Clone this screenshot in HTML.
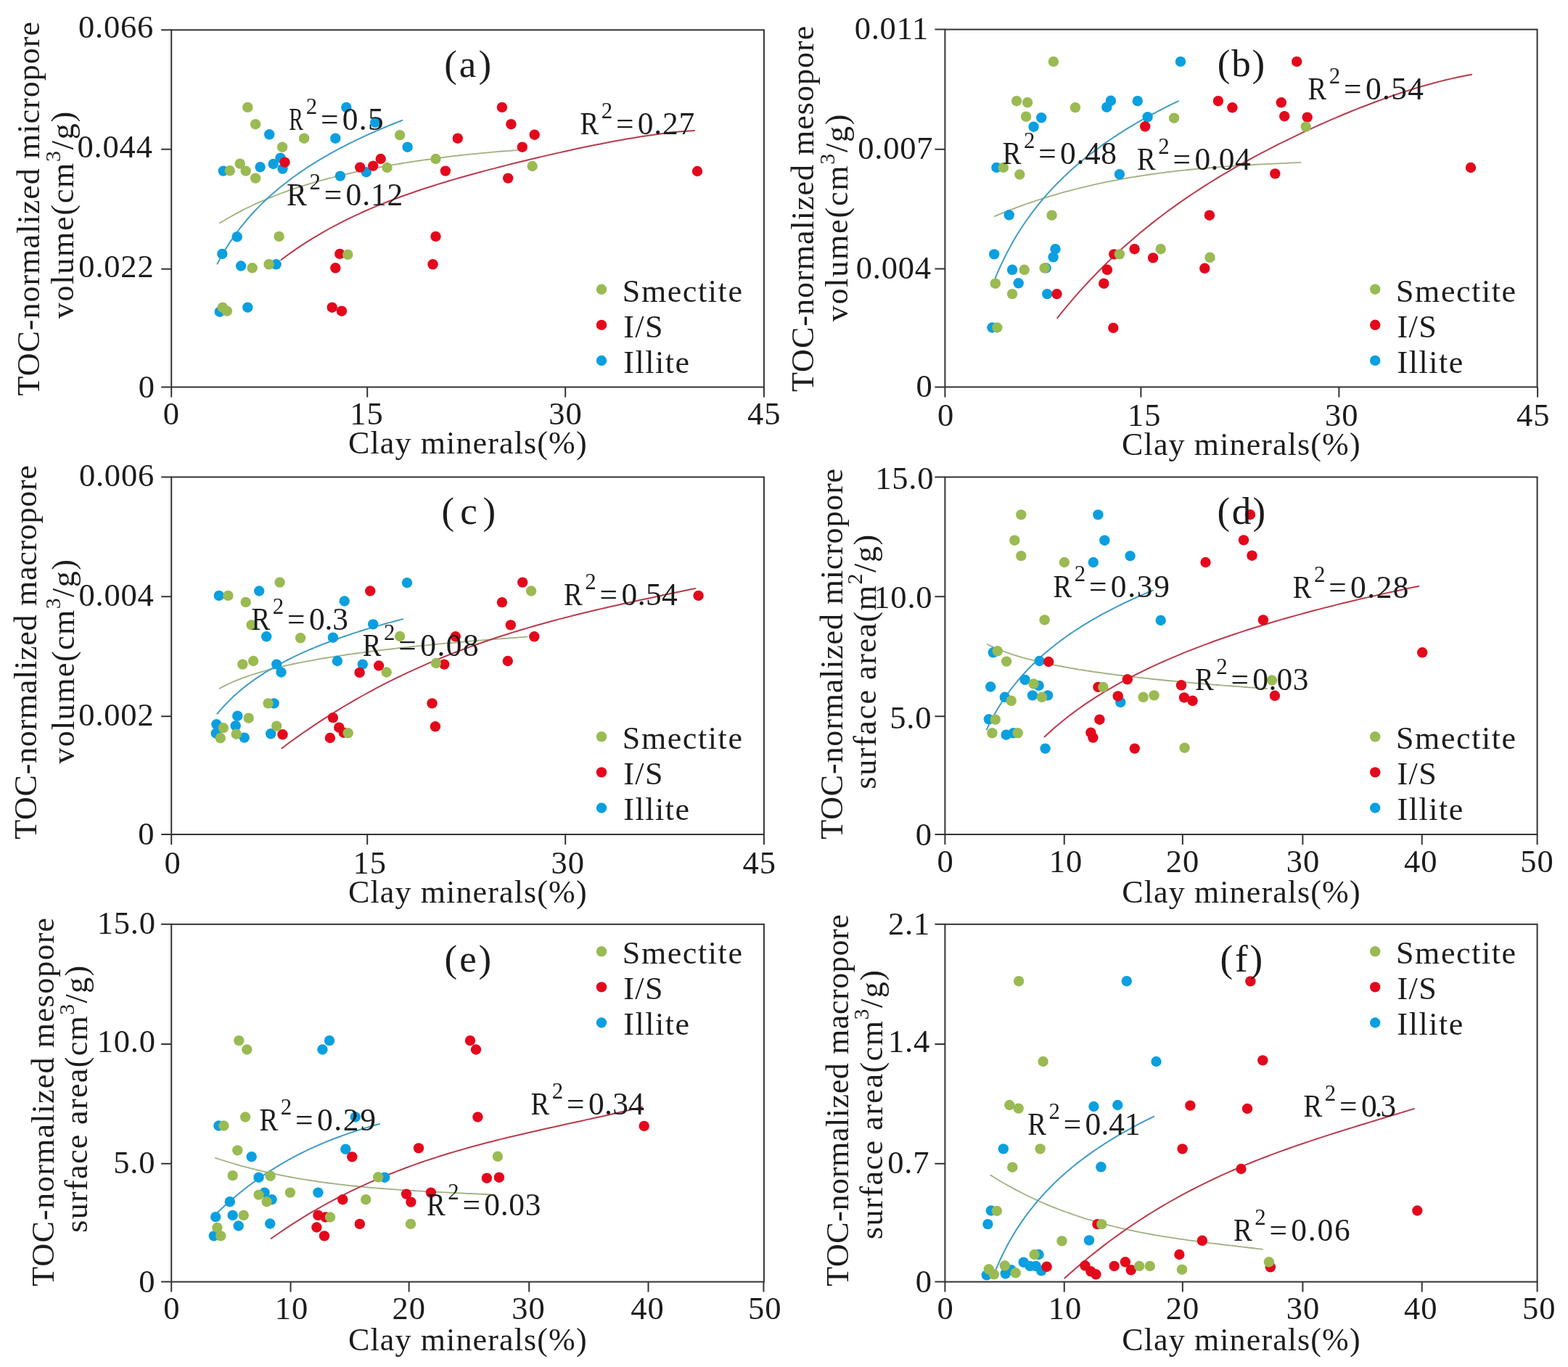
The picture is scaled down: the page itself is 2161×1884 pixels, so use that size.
<!DOCTYPE html><html><head><meta charset="utf-8"><title>Clay minerals vs TOC-normalized pore parameters</title><style>html,body{margin:0;padding:0;background:#fff;}svg{display:block;}</style></head><body><svg xmlns="http://www.w3.org/2000/svg" width="2161" height="1884" viewBox="0 0 2161 1884" font-family="'Liberation Serif', 'Times New Roman', serif"><path d="M236.20,533.50V547.50M506.20,533.50V547.50M779.20,533.50V547.50M1052.90,533.50V547.50M236.20,533.50H222.20M236.20,370.70H222.20M236.20,205.80H222.20M236.20,41.30H222.20" stroke="#333333" stroke-width="2" fill="none"/>
<rect x="236.20" y="41.30" width="816.70" height="492.20" stroke="#333333" stroke-width="2" fill="none"/>
<text x="224.78" y="585.30" font-size="44.5" letter-spacing="1.000" fill="#1c1c1c">0</text>
<text x="482.36" y="585.30" font-size="44.5" letter-spacing="1.000" fill="#1c1c1c">15</text>
<text x="756.33" y="585.30" font-size="44.5" letter-spacing="1.000" fill="#1c1c1c">30</text>
<text x="1029.88" y="585.30" font-size="44.5" letter-spacing="1.000" fill="#1c1c1c">45</text>
<text x="190.84" y="547.90" font-size="44.5" letter-spacing="0.800" fill="#1c1c1c">0</text>
<text x="108.33" y="381.80" font-size="44.5" letter-spacing="0.800" fill="#1c1c1c">0.022</text>
<text x="106.57" y="216.70" font-size="44.5" letter-spacing="0.800" fill="#1c1c1c">0.044</text>
<text x="108.00" y="51.80" font-size="44.5" letter-spacing="0.800" fill="#1c1c1c">0.066</text>
<text x="480.00" y="624.70" font-size="44.0" letter-spacing="1.131" fill="#1c1c1c">Clay minerals(%)</text>
<path d="M302.9,307.3 L308.1,304.2 L313.3,301.2 L318.5,298.2 L323.7,295.4 L328.8,292.6 L334.0,289.9 L339.2,287.3 L344.4,284.7 L349.6,282.3 L354.8,279.9 L360.0,277.6 L365.2,275.3 L370.4,273.2 L375.5,271.1 L380.7,269.0 L385.9,267.0 L391.1,265.1 L396.3,263.2 L401.5,261.4 L406.7,259.6 L411.9,257.9 L417.0,256.3 L422.2,254.6 L427.4,253.1 L432.6,251.5 L437.8,250.0 L443.0,248.6 L448.2,247.2 L453.4,245.8 L458.6,244.5 L463.7,243.2 L468.9,241.9 L474.1,240.7 L479.3,239.5 L484.5,238.4 L489.7,237.2 L494.9,236.1 L500.1,235.0 L505.3,234.0 L510.4,232.9 L515.6,231.9 L520.8,231.0 L526.0,230.0 L531.2,229.1 L536.4,228.1 L541.6,227.2 L546.8,226.4 L552.0,225.5 L557.1,224.7 L562.3,223.8 L567.5,223.0 L572.7,222.2 L577.9,221.5 L583.1,220.7 L588.3,220.0 L593.5,219.3 L598.7,218.6 L603.8,217.9 L609.0,217.2 L614.2,216.5 L619.4,215.9 L624.6,215.2 L629.8,214.6 L635.0,214.0 L640.2,213.4 L645.3,212.9 L650.5,212.3 L655.7,211.8 L660.9,211.3 L666.1,210.8 L671.3,210.3 L676.5,209.8 L681.7,209.4 L686.9,208.9 L692.0,208.5 L697.2,208.1 L702.4,207.8 L707.6,207.4 L712.8,207.1" stroke="#a0b07e" stroke-width="1.8" fill="none" stroke-linecap="round" stroke-linejoin="round"/>
<path d="M299.5,363.6 L302.7,357.6 L305.9,351.8 L309.2,346.3 L312.4,341.0 L315.6,335.9 L318.8,331.1 L322.1,326.4 L325.3,321.9 L328.5,317.5 L331.7,313.3 L335.0,309.3 L338.2,305.3 L341.4,301.5 L344.6,297.8 L347.9,294.2 L351.1,290.8 L354.3,287.4 L357.5,284.1 L360.8,280.9 L364.0,277.7 L367.2,274.7 L370.4,271.7 L373.7,268.8 L376.9,266.0 L380.1,263.2 L383.3,260.5 L386.5,257.8 L389.8,255.2 L393.0,252.7 L396.2,250.2 L399.4,247.7 L402.7,245.3 L405.9,243.0 L409.1,240.7 L412.3,238.4 L415.6,236.2 L418.8,234.0 L422.0,231.8 L425.2,229.7 L428.5,227.7 L431.7,225.6 L434.9,223.6 L438.1,221.6 L441.4,219.7 L444.6,217.8 L447.8,215.9 L451.0,214.1 L454.3,212.2 L457.5,210.4 L460.7,208.7 L463.9,206.9 L467.2,205.2 L470.4,203.5 L473.6,201.8 L476.8,200.1 L480.0,198.5 L483.3,196.9 L486.5,195.3 L489.7,193.7 L492.9,192.2 L496.2,190.7 L499.4,189.1 L502.6,187.7 L505.8,186.2 L509.1,184.7 L512.3,183.3 L515.5,181.9 L518.7,180.4 L522.0,179.1 L525.2,177.7 L528.4,176.3 L531.6,175.0 L534.9,173.6 L538.1,172.3 L541.3,171.0 L544.5,169.7 L547.8,168.4 L551.0,167.2 L554.2,165.9" stroke="#3f9cc4" stroke-width="2.0" fill="none" stroke-linecap="round" stroke-linejoin="round"/>
<path d="M387.4,358.2 L394.6,352.8 L401.8,347.6 L409.0,342.6 L416.2,337.8 L423.5,333.2 L430.7,328.7 L437.9,324.3 L445.1,320.1 L452.3,316.0 L459.5,312.1 L466.7,308.3 L473.9,304.6 L481.1,301.1 L488.4,297.6 L495.6,294.3 L502.8,291.0 L510.0,287.9 L517.2,284.8 L524.4,281.9 L531.6,279.0 L538.8,276.2 L546.1,273.5 L553.3,270.8 L560.5,268.2 L567.7,265.7 L574.9,263.2 L582.1,260.8 L589.3,258.5 L596.5,256.2 L603.7,253.9 L611.0,251.7 L618.2,249.5 L625.4,247.4 L632.6,245.3 L639.8,243.3 L647.0,241.2 L654.2,239.2 L661.4,237.3 L668.6,235.4 L675.9,233.4 L683.1,231.6 L690.3,229.7 L697.5,227.9 L704.7,226.0 L711.9,224.3 L719.1,222.5 L726.3,220.7 L733.5,219.0 L740.8,217.3 L748.0,215.6 L755.2,213.9 L762.4,212.3 L769.6,210.6 L776.8,209.0 L784.0,207.4 L791.2,205.8 L798.4,204.3 L805.7,202.8 L812.9,201.3 L820.1,199.8 L827.3,198.4 L834.5,196.9 L841.7,195.6 L848.9,194.2 L856.1,192.9 L863.4,191.6 L870.6,190.4 L877.8,189.2 L885.0,188.1 L892.2,187.0 L899.4,185.9 L906.6,184.9 L913.8,184.0 L921.0,183.1 L928.3,182.3 L935.5,181.6 L942.7,180.9 L949.9,180.4 L957.1,179.9" stroke="#b93a4c" stroke-width="2.0" fill="none" stroke-linecap="round" stroke-linejoin="round"/>
<circle cx="477.3" cy="147.9" r="7.2" fill="#0a9fe0"/>
<circle cx="517.2" cy="168.8" r="7.2" fill="#0a9fe0"/>
<circle cx="371.2" cy="185.3" r="7.2" fill="#0a9fe0"/>
<circle cx="462.3" cy="190.7" r="7.2" fill="#0a9fe0"/>
<circle cx="561.6" cy="202.7" r="7.2" fill="#0a9fe0"/>
<circle cx="307.8" cy="235.6" r="7.2" fill="#0a9fe0"/>
<circle cx="358.6" cy="230.2" r="7.2" fill="#0a9fe0"/>
<circle cx="376.6" cy="226.0" r="7.2" fill="#0a9fe0"/>
<circle cx="386.5" cy="217.6" r="7.2" fill="#0a9fe0"/>
<circle cx="389.5" cy="232.6" r="7.2" fill="#0a9fe0"/>
<circle cx="468.9" cy="242.6" r="7.2" fill="#0a9fe0"/>
<circle cx="504.8" cy="237.2" r="7.2" fill="#0a9fe0"/>
<circle cx="326.7" cy="326.3" r="7.2" fill="#0a9fe0"/>
<circle cx="306.3" cy="349.9" r="7.2" fill="#0a9fe0"/>
<circle cx="332.1" cy="366.5" r="7.2" fill="#0a9fe0"/>
<circle cx="380.6" cy="364.3" r="7.2" fill="#0a9fe0"/>
<circle cx="341.3" cy="423.7" r="7.2" fill="#0a9fe0"/>
<circle cx="302.8" cy="429.7" r="7.2" fill="#0a9fe0"/>
<circle cx="392.5" cy="223.6" r="7.2" fill="#e4081c"/>
<circle cx="630.8" cy="190.7" r="7.2" fill="#e4081c"/>
<circle cx="496.2" cy="230.6" r="7.2" fill="#e4081c"/>
<circle cx="514.2" cy="228.6" r="7.2" fill="#e4081c"/>
<circle cx="524.7" cy="219.0" r="7.2" fill="#e4081c"/>
<circle cx="613.9" cy="235.6" r="7.2" fill="#e4081c"/>
<circle cx="600.5" cy="325.9" r="7.2" fill="#e4081c"/>
<circle cx="468.3" cy="349.9" r="7.2" fill="#e4081c"/>
<circle cx="596.5" cy="364.3" r="7.2" fill="#e4081c"/>
<circle cx="462.3" cy="369.3" r="7.2" fill="#e4081c"/>
<circle cx="457.7" cy="423.7" r="7.2" fill="#e4081c"/>
<circle cx="470.9" cy="428.7" r="7.2" fill="#e4081c"/>
<circle cx="691.9" cy="147.9" r="7.2" fill="#e4081c"/>
<circle cx="704.4" cy="171.2" r="7.2" fill="#e4081c"/>
<circle cx="736.7" cy="185.7" r="7.2" fill="#e4081c"/>
<circle cx="719.8" cy="202.7" r="7.2" fill="#e4081c"/>
<circle cx="700.2" cy="245.6" r="7.2" fill="#e4081c"/>
<circle cx="961.0" cy="236.0" r="7.2" fill="#e4081c"/>
<circle cx="341.3" cy="147.9" r="7.2" fill="#9aba52"/>
<circle cx="352.1" cy="171.2" r="7.2" fill="#9aba52"/>
<circle cx="419.1" cy="190.7" r="7.2" fill="#9aba52"/>
<circle cx="389.1" cy="202.7" r="7.2" fill="#9aba52"/>
<circle cx="330.7" cy="225.6" r="7.2" fill="#9aba52"/>
<circle cx="316.8" cy="235.2" r="7.2" fill="#9aba52"/>
<circle cx="338.7" cy="235.6" r="7.2" fill="#9aba52"/>
<circle cx="352.1" cy="245.6" r="7.2" fill="#9aba52"/>
<circle cx="551.1" cy="186.1" r="7.2" fill="#9aba52"/>
<circle cx="600.5" cy="219.0" r="7.2" fill="#9aba52"/>
<circle cx="533.5" cy="231.0" r="7.2" fill="#9aba52"/>
<circle cx="384.6" cy="325.9" r="7.2" fill="#9aba52"/>
<circle cx="479.3" cy="350.9" r="7.2" fill="#9aba52"/>
<circle cx="347.7" cy="369.3" r="7.2" fill="#9aba52"/>
<circle cx="370.6" cy="364.3" r="7.2" fill="#9aba52"/>
<circle cx="306.8" cy="423.7" r="7.2" fill="#9aba52"/>
<circle cx="312.8" cy="428.7" r="7.2" fill="#9aba52"/>
<circle cx="733.7" cy="229.0" r="7.2" fill="#9aba52"/>
<text transform="translate(398.35,179.00) scale(0.680,1)" font-size="43.4" fill="#1c1c1c">R</text>
<text x="421.65" y="157.00" font-size="30.813999999999997" letter-spacing="0.000" fill="#1c1c1c">2</text>
<text x="441.89" y="179.00" font-size="43.4" letter-spacing="0.000" fill="#1c1c1c">=</text>
<text x="471.80" y="179.00" font-size="43.4" letter-spacing="1.375" fill="#1c1c1c">0.5</text>
<text transform="translate(395.00,282.50) scale(0.963,1)" font-size="43.4" fill="#1c1c1c">R</text>
<text x="426.45" y="260.50" font-size="30.813999999999997" letter-spacing="0.000" fill="#1c1c1c">2</text>
<text x="446.69" y="282.50" font-size="43.4" letter-spacing="0.000" fill="#1c1c1c">=</text>
<text x="476.60" y="282.50" font-size="43.4" letter-spacing="0.883" fill="#1c1c1c">0.12</text>
<text transform="translate(799.39,184.70) scale(0.887,1)" font-size="43.4" fill="#1c1c1c">R</text>
<text x="828.65" y="162.70" font-size="30.813999999999997" letter-spacing="0.000" fill="#1c1c1c">2</text>
<text x="848.89" y="184.70" font-size="43.4" letter-spacing="0.000" fill="#1c1c1c">=</text>
<text x="878.80" y="184.70" font-size="43.4" letter-spacing="0.835" fill="#1c1c1c">0.27</text>
<text x="612.17" y="106.10" font-size="53.0" letter-spacing="3.068" fill="#1c1c1c">(a)</text>
<circle cx="829.0" cy="398.8" r="7.2" fill="#9aba52"/>
<text x="857.86" y="415.70" font-size="44.0" letter-spacing="1.587" fill="#1c1c1c">Smectite</text>
<circle cx="829.0" cy="447.9" r="7.2" fill="#e4081c"/>
<text x="859.21" y="464.80" font-size="44.0" letter-spacing="1.435" fill="#1c1c1c">I/S</text>
<circle cx="829.0" cy="497.0" r="7.2" fill="#0a9fe0"/>
<text x="859.21" y="513.90" font-size="44.0" letter-spacing="1.567" fill="#1c1c1c">Illite</text>
<path d="M1302.40,533.40V547.40M1572.40,533.40V547.40M1845.40,533.40V547.40M2119.10,533.40V547.40M1302.40,533.40H1288.40M1302.40,370.60H1288.40M1302.40,205.70H1288.40M1302.40,40.60H1288.40" stroke="#333333" stroke-width="2" fill="none"/>
<rect x="1302.40" y="40.60" width="816.20" height="492.80" stroke="#333333" stroke-width="2" fill="none"/>
<text x="1291.88" y="586.80" font-size="44.5" letter-spacing="1.000" fill="#1c1c1c">0</text>
<text x="1553.96" y="586.80" font-size="44.5" letter-spacing="1.000" fill="#1c1c1c">15</text>
<text x="1826.03" y="586.80" font-size="44.5" letter-spacing="1.000" fill="#1c1c1c">30</text>
<text x="2089.88" y="586.80" font-size="44.5" letter-spacing="1.000" fill="#1c1c1c">45</text>
<text x="1262.44" y="546.50" font-size="44.5" letter-spacing="0.800" fill="#1c1c1c">0</text>
<text x="1179.67" y="383.65" font-size="44.5" letter-spacing="0.800" fill="#1c1c1c">0.004</text>
<text x="1182.16" y="218.90" font-size="44.5" letter-spacing="0.800" fill="#1c1c1c">0.007</text>
<text x="1177.65" y="53.60" font-size="44.5" letter-spacing="0.800" fill="#1c1c1c">0.011</text>
<text x="1546.10" y="627.10" font-size="44.0" letter-spacing="1.125" fill="#1c1c1c">Clay minerals(%)</text>
<path d="M1370.8,298.1 L1376.1,295.8 L1381.5,293.6 L1386.8,291.5 L1392.2,289.4 L1397.5,287.4 L1402.8,285.4 L1408.2,283.4 L1413.5,281.5 L1418.9,279.6 L1424.2,277.8 L1429.5,276.0 L1434.9,274.3 L1440.2,272.6 L1445.6,270.9 L1450.9,269.3 L1456.2,267.8 L1461.6,266.2 L1466.9,264.7 L1472.3,263.3 L1477.6,261.9 L1483.0,260.5 L1488.3,259.1 L1493.6,257.8 L1499.0,256.6 L1504.3,255.3 L1509.7,254.1 L1515.0,252.9 L1520.3,251.8 L1525.7,250.7 L1531.0,249.6 L1536.4,248.6 L1541.7,247.6 L1547.0,246.6 L1552.4,245.7 L1557.7,244.7 L1563.1,243.8 L1568.4,243.0 L1573.7,242.1 L1579.1,241.3 L1584.4,240.5 L1589.8,239.8 L1595.1,239.1 L1600.4,238.3 L1605.8,237.7 L1611.1,237.0 L1616.5,236.4 L1621.8,235.7 L1627.1,235.1 L1632.5,234.6 L1637.8,234.0 L1643.2,233.5 L1648.5,232.9 L1653.8,232.4 L1659.2,232.0 L1664.5,231.5 L1669.9,231.0 L1675.2,230.6 L1680.5,230.2 L1685.9,229.8 L1691.2,229.4 L1696.6,229.0 L1701.9,228.6 L1707.3,228.3 L1712.6,228.0 L1717.9,227.6 L1723.3,227.3 L1728.6,227.0 L1734.0,226.7 L1739.3,226.4 L1744.6,226.1 L1750.0,225.9 L1755.3,225.6 L1760.7,225.3 L1766.0,225.1 L1771.3,224.8 L1776.7,224.6 L1782.0,224.3 L1787.4,224.1 L1792.7,223.9" stroke="#a0b07e" stroke-width="1.8" fill="none" stroke-linecap="round" stroke-linejoin="round"/>
<path d="M1371.8,383.0 L1375.0,375.4 L1378.2,368.2 L1381.4,361.3 L1384.6,354.7 L1387.8,348.4 L1391.0,342.4 L1394.1,336.6 L1397.3,331.0 L1400.5,325.6 L1403.7,320.4 L1406.9,315.3 L1410.1,310.5 L1413.3,305.8 L1416.5,301.2 L1419.7,296.8 L1422.9,292.4 L1426.1,288.3 L1429.3,284.2 L1432.5,280.2 L1435.6,276.4 L1438.8,272.6 L1442.0,268.9 L1445.2,265.4 L1448.4,261.9 L1451.6,258.4 L1454.8,255.1 L1458.0,251.8 L1461.2,248.6 L1464.4,245.5 L1467.6,242.4 L1470.8,239.4 L1474.0,236.5 L1477.1,233.6 L1480.3,230.8 L1483.5,228.0 L1486.7,225.3 L1489.9,222.6 L1493.1,219.9 L1496.3,217.4 L1499.5,214.8 L1502.7,212.3 L1505.9,209.9 L1509.1,207.4 L1512.3,205.1 L1515.5,202.7 L1518.7,200.4 L1521.8,198.1 L1525.0,195.9 L1528.2,193.7 L1531.4,191.5 L1534.6,189.4 L1537.8,187.3 L1541.0,185.2 L1544.2,183.1 L1547.4,181.1 L1550.6,179.1 L1553.8,177.1 L1557.0,175.2 L1560.2,173.3 L1563.3,171.4 L1566.5,169.5 L1569.7,167.6 L1572.9,165.8 L1576.1,164.0 L1579.3,162.2 L1582.5,160.5 L1585.7,158.7 L1588.9,157.0 L1592.1,155.3 L1595.3,153.6 L1598.5,152.0 L1601.7,150.3 L1604.8,148.7 L1608.0,147.1 L1611.2,145.5 L1614.4,143.9 L1617.6,142.3 L1620.8,140.8 L1624.0,139.3" stroke="#3f9cc4" stroke-width="2.0" fill="none" stroke-linecap="round" stroke-linejoin="round"/>
<path d="M1457.3,438.1 L1464.5,429.1 L1471.8,420.4 L1479.0,411.9 L1486.2,403.6 L1493.4,395.6 L1500.7,387.7 L1507.9,380.1 L1515.1,372.7 L1522.3,365.5 L1529.6,358.4 L1536.8,351.5 L1544.0,344.8 L1551.2,338.3 L1558.5,331.9 L1565.7,325.7 L1572.9,319.6 L1580.2,313.7 L1587.4,307.9 L1594.6,302.3 L1601.8,296.7 L1609.1,291.3 L1616.3,286.1 L1623.5,280.9 L1630.7,275.8 L1638.0,270.9 L1645.2,266.0 L1652.4,261.3 L1659.6,256.6 L1666.9,252.0 L1674.1,247.6 L1681.3,243.1 L1688.6,238.8 L1695.8,234.6 L1703.0,230.4 L1710.2,226.3 L1717.5,222.3 L1724.7,218.3 L1731.9,214.4 L1739.1,210.6 L1746.4,206.8 L1753.6,203.1 L1760.8,199.4 L1768.0,195.8 L1775.3,192.3 L1782.5,188.8 L1789.7,185.3 L1796.9,181.9 L1804.2,178.6 L1811.4,175.3 L1818.6,172.0 L1825.9,168.8 L1833.1,165.7 L1840.3,162.6 L1847.5,159.5 L1854.8,156.5 L1862.0,153.5 L1869.2,150.6 L1876.4,147.8 L1883.7,145.0 L1890.9,142.2 L1898.1,139.5 L1905.3,136.9 L1912.6,134.3 L1919.8,131.8 L1927.0,129.3 L1934.3,126.9 L1941.5,124.6 L1948.7,122.3 L1955.9,120.1 L1963.2,118.0 L1970.4,116.0 L1977.6,114.0 L1984.8,112.1 L1992.1,110.3 L1999.3,108.6 L2006.5,107.0 L2013.7,105.4 L2021.0,104.0 L2028.2,102.7" stroke="#b93a4c" stroke-width="2.0" fill="none" stroke-linecap="round" stroke-linejoin="round"/>
<circle cx="1627.0" cy="84.9" r="7.2" fill="#0a9fe0"/>
<circle cx="1530.9" cy="138.8" r="7.2" fill="#0a9fe0"/>
<circle cx="1525.3" cy="147.7" r="7.2" fill="#0a9fe0"/>
<circle cx="1567.8" cy="139.2" r="7.2" fill="#0a9fe0"/>
<circle cx="1435.2" cy="162.3" r="7.2" fill="#0a9fe0"/>
<circle cx="1424.6" cy="174.7" r="7.2" fill="#0a9fe0"/>
<circle cx="1581.6" cy="161.3" r="7.2" fill="#0a9fe0"/>
<circle cx="1373.4" cy="230.9" r="7.2" fill="#0a9fe0"/>
<circle cx="1542.9" cy="240.1" r="7.2" fill="#0a9fe0"/>
<circle cx="1390.7" cy="296.3" r="7.2" fill="#0a9fe0"/>
<circle cx="1370.2" cy="350.4" r="7.2" fill="#0a9fe0"/>
<circle cx="1454.5" cy="343.2" r="7.2" fill="#0a9fe0"/>
<circle cx="1451.6" cy="354.4" r="7.2" fill="#0a9fe0"/>
<circle cx="1395.1" cy="371.8" r="7.2" fill="#0a9fe0"/>
<circle cx="1403.7" cy="390.3" r="7.2" fill="#0a9fe0"/>
<circle cx="1441.6" cy="369.4" r="7.2" fill="#0a9fe0"/>
<circle cx="1443.2" cy="405.1" r="7.2" fill="#0a9fe0"/>
<circle cx="1367.4" cy="451.5" r="7.2" fill="#0a9fe0"/>
<circle cx="1678.9" cy="139.2" r="7.2" fill="#e4081c"/>
<circle cx="1698.4" cy="148.3" r="7.2" fill="#e4081c"/>
<circle cx="1578.2" cy="174.3" r="7.2" fill="#e4081c"/>
<circle cx="1666.9" cy="296.7" r="7.2" fill="#e4081c"/>
<circle cx="1787.2" cy="84.9" r="7.2" fill="#e4081c"/>
<circle cx="1765.8" cy="141.3" r="7.2" fill="#e4081c"/>
<circle cx="1770.2" cy="160.2" r="7.2" fill="#e4081c"/>
<circle cx="1801.7" cy="161.6" r="7.2" fill="#e4081c"/>
<circle cx="1757.3" cy="239.4" r="7.2" fill="#e4081c"/>
<circle cx="2027.0" cy="231.0" r="7.2" fill="#e4081c"/>
<circle cx="1535.3" cy="350.4" r="7.2" fill="#e4081c"/>
<circle cx="1563.6" cy="343.2" r="7.2" fill="#e4081c"/>
<circle cx="1589.1" cy="355.4" r="7.2" fill="#e4081c"/>
<circle cx="1525.9" cy="371.8" r="7.2" fill="#e4081c"/>
<circle cx="1521.3" cy="390.7" r="7.2" fill="#e4081c"/>
<circle cx="1456.5" cy="405.1" r="7.2" fill="#e4081c"/>
<circle cx="1660.3" cy="369.8" r="7.2" fill="#e4081c"/>
<circle cx="1534.3" cy="451.9" r="7.2" fill="#e4081c"/>
<circle cx="1451.9" cy="84.9" r="7.2" fill="#9aba52"/>
<circle cx="1401.1" cy="139.2" r="7.2" fill="#9aba52"/>
<circle cx="1416.1" cy="141.2" r="7.2" fill="#9aba52"/>
<circle cx="1481.9" cy="148.1" r="7.2" fill="#9aba52"/>
<circle cx="1414.1" cy="160.7" r="7.2" fill="#9aba52"/>
<circle cx="1618.1" cy="162.7" r="7.2" fill="#9aba52"/>
<circle cx="1382.8" cy="230.9" r="7.2" fill="#9aba52"/>
<circle cx="1405.3" cy="240.5" r="7.2" fill="#9aba52"/>
<circle cx="1449.6" cy="296.7" r="7.2" fill="#9aba52"/>
<circle cx="1411.7" cy="371.8" r="7.2" fill="#9aba52"/>
<circle cx="1439.6" cy="369.4" r="7.2" fill="#9aba52"/>
<circle cx="1371.8" cy="390.7" r="7.2" fill="#9aba52"/>
<circle cx="1395.1" cy="405.1" r="7.2" fill="#9aba52"/>
<circle cx="1374.4" cy="451.5" r="7.2" fill="#9aba52"/>
<circle cx="1542.9" cy="350.4" r="7.2" fill="#9aba52"/>
<circle cx="1599.7" cy="343.2" r="7.2" fill="#9aba52"/>
<circle cx="1667.5" cy="354.8" r="7.2" fill="#9aba52"/>
<circle cx="1799.7" cy="174.6" r="7.2" fill="#9aba52"/>
<text transform="translate(1381.69,225.50) scale(0.887,1)" font-size="43.4" fill="#1c1c1c">R</text>
<text x="1410.95" y="203.50" font-size="30.813999999999997" letter-spacing="0.000" fill="#1c1c1c">2</text>
<text x="1431.19" y="225.50" font-size="43.4" letter-spacing="0.000" fill="#1c1c1c">=</text>
<text x="1461.10" y="225.50" font-size="43.4" letter-spacing="0.636" fill="#1c1c1c">0.48</text>
<text transform="translate(1567.09,233.50) scale(0.887,1)" font-size="43.4" fill="#1c1c1c">R</text>
<text x="1596.35" y="211.50" font-size="30.813999999999997" letter-spacing="0.000" fill="#1c1c1c">2</text>
<text x="1616.59" y="233.50" font-size="43.4" letter-spacing="0.000" fill="#1c1c1c">=</text>
<text x="1646.50" y="233.50" font-size="43.4" letter-spacing="0.411" fill="#1c1c1c">0.04</text>
<text transform="translate(1802.59,136.70) scale(0.887,1)" font-size="43.4" fill="#1c1c1c">R</text>
<text x="1831.85" y="114.70" font-size="30.813999999999997" letter-spacing="0.000" fill="#1c1c1c">2</text>
<text x="1852.09" y="136.70" font-size="43.4" letter-spacing="0.000" fill="#1c1c1c">=</text>
<text x="1882.00" y="136.70" font-size="43.4" letter-spacing="1.311" fill="#1c1c1c">0.54</text>
<text x="1677.67" y="105.40" font-size="53.0" letter-spacing="1.880" fill="#1c1c1c">(b)</text>
<circle cx="1895.2" cy="398.7" r="7.2" fill="#9aba52"/>
<text x="1924.06" y="415.60" font-size="44.0" letter-spacing="1.587" fill="#1c1c1c">Smectite</text>
<circle cx="1895.2" cy="447.8" r="7.2" fill="#e4081c"/>
<text x="1925.41" y="464.70" font-size="44.0" letter-spacing="1.435" fill="#1c1c1c">I/S</text>
<circle cx="1895.2" cy="496.9" r="7.2" fill="#0a9fe0"/>
<text x="1925.41" y="513.80" font-size="44.0" letter-spacing="1.567" fill="#1c1c1c">Illite</text>
<path d="M236.20,1150.00V1164.00M506.20,1150.00V1164.00M779.20,1150.00V1164.00M1052.90,1150.00V1164.00M236.20,1150.00H222.20M236.20,987.20H222.20M236.20,822.30H222.20M236.20,657.50H222.20" stroke="#333333" stroke-width="2" fill="none"/>
<rect x="236.20" y="657.50" width="816.70" height="492.50" stroke="#333333" stroke-width="2" fill="none"/>
<text x="226.38" y="1203.80" font-size="44.5" letter-spacing="1.000" fill="#1c1c1c">0</text>
<text x="486.56" y="1203.80" font-size="44.5" letter-spacing="1.000" fill="#1c1c1c">15</text>
<text x="759.53" y="1203.80" font-size="44.5" letter-spacing="1.000" fill="#1c1c1c">30</text>
<text x="1023.58" y="1203.80" font-size="44.5" letter-spacing="1.000" fill="#1c1c1c">45</text>
<text x="190.34" y="1163.60" font-size="44.5" letter-spacing="0.800" fill="#1c1c1c">0</text>
<text x="108.33" y="999.50" font-size="44.5" letter-spacing="0.800" fill="#1c1c1c">0.002</text>
<text x="108.47" y="835.00" font-size="44.5" letter-spacing="0.800" fill="#1c1c1c">0.004</text>
<text x="108.90" y="670.10" font-size="44.5" letter-spacing="0.800" fill="#1c1c1c">0.006</text>
<text x="480.00" y="1244.40" font-size="44.0" letter-spacing="1.131" fill="#1c1c1c">Clay minerals(%)</text>
<path d="M302.8,948.8 L308.2,945.9 L313.5,943.2 L318.9,940.8 L324.3,938.4 L329.6,936.3 L335.0,934.2 L340.4,932.3 L345.7,930.5 L351.1,928.8 L356.5,927.1 L361.8,925.5 L367.2,924.0 L372.6,922.6 L377.9,921.2 L383.3,919.9 L388.7,918.6 L394.0,917.4 L399.4,916.2 L404.8,915.0 L410.1,913.9 L415.5,912.9 L420.8,911.8 L426.2,910.8 L431.6,909.8 L436.9,908.9 L442.3,907.9 L447.7,907.0 L453.0,906.1 L458.4,905.3 L463.8,904.4 L469.1,903.6 L474.5,902.8 L479.9,902.0 L485.2,901.3 L490.6,900.5 L496.0,899.8 L501.3,899.1 L506.7,898.4 L512.1,897.7 L517.4,897.0 L522.8,896.4 L528.2,895.7 L533.5,895.1 L538.9,894.5 L544.3,893.8 L549.6,893.2 L555.0,892.7 L560.4,892.1 L565.7,891.5 L571.1,890.9 L576.5,890.4 L581.8,889.8 L587.2,889.3 L592.6,888.8 L597.9,888.3 L603.3,887.7 L608.7,887.2 L614.0,886.7 L619.4,886.2 L624.7,885.8 L630.1,885.3 L635.5,884.8 L640.8,884.4 L646.2,883.9 L651.6,883.4 L656.9,883.0 L662.3,882.6 L667.7,882.1 L673.0,881.7 L678.4,881.3 L683.8,880.9 L689.1,880.4 L694.5,880.0 L699.9,879.6 L705.2,879.2 L710.6,878.8 L716.0,878.4 L721.3,878.1 L726.7,877.7" stroke="#a0b07e" stroke-width="1.8" fill="none" stroke-linecap="round" stroke-linejoin="round"/>
<path d="M299.4,983.8 L302.6,979.9 L305.9,976.1 L309.1,972.6 L312.3,969.2 L315.6,965.9 L318.8,962.7 L322.0,959.6 L325.3,956.7 L328.5,953.9 L331.7,951.1 L335.0,948.5 L338.2,945.9 L341.4,943.4 L344.7,941.0 L347.9,938.6 L351.1,936.3 L354.4,934.1 L357.6,931.9 L360.8,929.8 L364.1,927.7 L367.3,925.7 L370.6,923.7 L373.8,921.8 L377.0,919.9 L380.3,918.1 L383.5,916.3 L386.7,914.5 L390.0,912.8 L393.2,911.1 L396.4,909.5 L399.7,907.9 L402.9,906.3 L406.1,904.7 L409.4,903.2 L412.6,901.7 L415.8,900.2 L419.1,898.7 L422.3,897.3 L425.5,895.9 L428.8,894.5 L432.0,893.2 L435.2,891.8 L438.5,890.5 L441.7,889.2 L444.9,887.9 L448.2,886.7 L451.4,885.5 L454.6,884.2 L457.9,883.0 L461.1,881.8 L464.3,880.7 L467.6,879.5 L470.8,878.4 L474.0,877.3 L477.3,876.2 L480.5,875.1 L483.7,874.0 L487.0,872.9 L490.2,871.9 L493.5,870.9 L496.7,869.8 L499.9,868.8 L503.2,867.8 L506.4,866.8 L509.6,865.9 L512.9,864.9 L516.1,863.9 L519.3,863.0 L522.6,862.1 L525.8,861.1 L529.0,860.2 L532.3,859.3 L535.5,858.4 L538.7,857.6 L542.0,856.7 L545.2,855.8 L548.4,855.0 L551.7,854.1 L554.9,853.3" stroke="#3f9cc4" stroke-width="2.0" fill="none" stroke-linecap="round" stroke-linejoin="round"/>
<path d="M388.5,1031.2 L395.7,1025.8 L402.9,1020.5 L410.1,1015.4 L417.3,1010.3 L424.6,1005.3 L431.8,1000.4 L439.0,995.6 L446.2,990.9 L453.4,986.3 L460.6,981.8 L467.8,977.4 L475.0,973.0 L482.2,968.8 L489.4,964.6 L496.7,960.5 L503.9,956.5 L511.1,952.6 L518.3,948.7 L525.5,944.9 L532.7,941.2 L539.9,937.6 L547.1,934.0 L554.3,930.6 L561.5,927.2 L568.8,923.8 L576.0,920.6 L583.2,917.3 L590.4,914.2 L597.6,911.1 L604.8,908.1 L612.0,905.2 L619.2,902.3 L626.4,899.5 L633.6,896.7 L640.9,894.0 L648.1,891.3 L655.3,888.7 L662.5,886.2 L669.7,883.7 L676.9,881.2 L684.1,878.8 L691.3,876.5 L698.5,874.2 L705.7,871.9 L713.0,869.7 L720.2,867.5 L727.4,865.4 L734.6,863.3 L741.8,861.2 L749.0,859.2 L756.2,857.2 L763.4,855.3 L770.6,853.4 L777.8,851.5 L785.1,849.6 L792.3,847.8 L799.5,846.0 L806.7,844.3 L813.9,842.5 L821.1,840.8 L828.3,839.1 L835.5,837.5 L842.7,835.8 L849.9,834.2 L857.2,832.6 L864.4,831.0 L871.6,829.4 L878.8,827.8 L886.0,826.3 L893.2,824.7 L900.4,823.2 L907.6,821.7 L914.8,820.1 L922.0,818.6 L929.3,817.1 L936.5,815.6 L943.7,814.1 L950.9,812.6 L958.1,811.1" stroke="#b93a4c" stroke-width="2.0" fill="none" stroke-linecap="round" stroke-linejoin="round"/>
<circle cx="301.8" cy="820.9" r="7.2" fill="#0a9fe0"/>
<circle cx="357.2" cy="814.5" r="7.2" fill="#0a9fe0"/>
<circle cx="561.0" cy="803.2" r="7.2" fill="#0a9fe0"/>
<circle cx="474.7" cy="828.5" r="7.2" fill="#0a9fe0"/>
<circle cx="514.2" cy="860.4" r="7.2" fill="#0a9fe0"/>
<circle cx="367.2" cy="877.3" r="7.2" fill="#0a9fe0"/>
<circle cx="458.9" cy="878.7" r="7.2" fill="#0a9fe0"/>
<circle cx="381.2" cy="915.6" r="7.2" fill="#0a9fe0"/>
<circle cx="387.5" cy="926.5" r="7.2" fill="#0a9fe0"/>
<circle cx="464.9" cy="911.0" r="7.2" fill="#0a9fe0"/>
<circle cx="499.8" cy="915.6" r="7.2" fill="#0a9fe0"/>
<circle cx="377.6" cy="969.4" r="7.2" fill="#0a9fe0"/>
<circle cx="327.3" cy="986.7" r="7.2" fill="#0a9fe0"/>
<circle cx="298.4" cy="998.3" r="7.2" fill="#0a9fe0"/>
<circle cx="324.7" cy="1000.3" r="7.2" fill="#0a9fe0"/>
<circle cx="297.8" cy="1010.7" r="7.2" fill="#0a9fe0"/>
<circle cx="336.7" cy="1016.6" r="7.2" fill="#0a9fe0"/>
<circle cx="373.2" cy="1011.3" r="7.2" fill="#0a9fe0"/>
<circle cx="510.2" cy="814.5" r="7.2" fill="#e4081c"/>
<circle cx="627.8" cy="877.3" r="7.2" fill="#e4081c"/>
<circle cx="522.1" cy="917.5" r="7.2" fill="#e4081c"/>
<circle cx="495.6" cy="926.9" r="7.2" fill="#e4081c"/>
<circle cx="612.3" cy="915.6" r="7.2" fill="#e4081c"/>
<circle cx="595.5" cy="969.4" r="7.2" fill="#e4081c"/>
<circle cx="458.9" cy="989.1" r="7.2" fill="#e4081c"/>
<circle cx="467.3" cy="1002.7" r="7.2" fill="#e4081c"/>
<circle cx="473.7" cy="1009.7" r="7.2" fill="#e4081c"/>
<circle cx="454.9" cy="1017.0" r="7.2" fill="#e4081c"/>
<circle cx="389.5" cy="1012.3" r="7.2" fill="#e4081c"/>
<circle cx="599.9" cy="1001.3" r="7.2" fill="#e4081c"/>
<circle cx="720.2" cy="802.6" r="7.2" fill="#e4081c"/>
<circle cx="691.9" cy="830.1" r="7.2" fill="#e4081c"/>
<circle cx="703.8" cy="861.4" r="7.2" fill="#e4081c"/>
<circle cx="736.3" cy="877.3" r="7.2" fill="#e4081c"/>
<circle cx="962.6" cy="820.9" r="7.2" fill="#e4081c"/>
<circle cx="699.8" cy="911.0" r="7.2" fill="#e4081c"/>
<circle cx="314.4" cy="820.9" r="7.2" fill="#9aba52"/>
<circle cx="385.6" cy="802.6" r="7.2" fill="#9aba52"/>
<circle cx="338.7" cy="829.9" r="7.2" fill="#9aba52"/>
<circle cx="346.7" cy="861.4" r="7.2" fill="#9aba52"/>
<circle cx="414.1" cy="879.3" r="7.2" fill="#9aba52"/>
<circle cx="551.1" cy="877.0" r="7.2" fill="#9aba52"/>
<circle cx="334.3" cy="915.6" r="7.2" fill="#9aba52"/>
<circle cx="349.1" cy="911.0" r="7.2" fill="#9aba52"/>
<circle cx="532.7" cy="926.5" r="7.2" fill="#9aba52"/>
<circle cx="600.9" cy="914.0" r="7.2" fill="#9aba52"/>
<circle cx="369.6" cy="969.4" r="7.2" fill="#9aba52"/>
<circle cx="342.7" cy="989.7" r="7.2" fill="#9aba52"/>
<circle cx="307.8" cy="1003.1" r="7.2" fill="#9aba52"/>
<circle cx="303.8" cy="1017.2" r="7.2" fill="#9aba52"/>
<circle cx="325.7" cy="1011.7" r="7.2" fill="#9aba52"/>
<circle cx="381.2" cy="1000.7" r="7.2" fill="#9aba52"/>
<circle cx="479.7" cy="1010.3" r="7.2" fill="#9aba52"/>
<circle cx="732.1" cy="814.5" r="7.2" fill="#9aba52"/>
<text transform="translate(346.59,868.40) scale(0.887,1)" font-size="43.4" fill="#1c1c1c">R</text>
<text x="375.85" y="846.40" font-size="30.813999999999997" letter-spacing="0.000" fill="#1c1c1c">2</text>
<text x="396.09" y="868.40" font-size="43.4" letter-spacing="0.000" fill="#1c1c1c">=</text>
<text x="426.00" y="868.40" font-size="43.4" letter-spacing="-0.125" fill="#1c1c1c">0.3</text>
<text transform="translate(499.79,903.70) scale(0.887,1)" font-size="43.4" fill="#1c1c1c">R</text>
<text x="529.05" y="881.70" font-size="30.813999999999997" letter-spacing="0.000" fill="#1c1c1c">2</text>
<text x="549.29" y="903.70" font-size="43.4" letter-spacing="0.000" fill="#1c1c1c">=</text>
<text x="579.20" y="903.70" font-size="43.4" letter-spacing="1.503" fill="#1c1c1c">0.08</text>
<text transform="translate(777.09,833.50) scale(0.887,1)" font-size="43.4" fill="#1c1c1c">R</text>
<text x="806.35" y="811.50" font-size="30.813999999999997" letter-spacing="0.000" fill="#1c1c1c">2</text>
<text x="826.59" y="833.50" font-size="43.4" letter-spacing="0.000" fill="#1c1c1c">=</text>
<text x="856.50" y="833.50" font-size="43.4" letter-spacing="0.444" fill="#1c1c1c">0.54</text>
<text x="608.57" y="722.30" font-size="53.0" letter-spacing="7.918" fill="#1c1c1c">(c)</text>
<circle cx="829.0" cy="1015.3" r="7.2" fill="#9aba52"/>
<text x="857.86" y="1032.20" font-size="44.0" letter-spacing="1.587" fill="#1c1c1c">Smectite</text>
<circle cx="829.0" cy="1064.4" r="7.2" fill="#e4081c"/>
<text x="859.21" y="1081.30" font-size="44.0" letter-spacing="1.435" fill="#1c1c1c">I/S</text>
<circle cx="829.0" cy="1113.5" r="7.2" fill="#0a9fe0"/>
<text x="859.21" y="1130.40" font-size="44.0" letter-spacing="1.567" fill="#1c1c1c">Illite</text>
<path d="M1302.40,1150.00V1164.00M1466.75,1150.00V1164.00M1629.85,1150.00V1164.00M1795.40,1150.00V1164.00M1959.70,1150.00V1164.00M2118.60,1150.00V1164.00M1302.40,1150.00H1288.40M1302.40,987.20H1288.40M1302.40,822.30H1288.40M1302.40,657.50H1288.40" stroke="#333333" stroke-width="2" fill="none"/>
<rect x="1302.40" y="657.50" width="816.20" height="492.50" stroke="#333333" stroke-width="2" fill="none"/>
<text x="1291.38" y="1201.70" font-size="44.5" letter-spacing="1.000" fill="#1c1c1c">0</text>
<text x="1445.84" y="1201.70" font-size="44.5" letter-spacing="1.000" fill="#1c1c1c">10</text>
<text x="1606.72" y="1201.70" font-size="44.5" letter-spacing="1.000" fill="#1c1c1c">20</text>
<text x="1772.63" y="1201.70" font-size="44.5" letter-spacing="1.000" fill="#1c1c1c">30</text>
<text x="1934.96" y="1201.70" font-size="44.5" letter-spacing="1.000" fill="#1c1c1c">40</text>
<text x="2095.20" y="1201.70" font-size="44.5" letter-spacing="1.000" fill="#1c1c1c">50</text>
<text x="1261.74" y="1164.50" font-size="44.5" letter-spacing="0.800" fill="#1c1c1c">0</text>
<text x="1226.17" y="1004.00" font-size="44.5" letter-spacing="0.800" fill="#1c1c1c">5.0</text>
<text x="1204.32" y="837.80" font-size="44.5" letter-spacing="0.800" fill="#1c1c1c">10.0</text>
<text x="1206.22" y="674.00" font-size="44.5" letter-spacing="0.800" fill="#1c1c1c">15.0</text>
<text x="1546.30" y="1244.40" font-size="44.0" letter-spacing="1.111" fill="#1c1c1c">Clay minerals(%)</text>
<path d="M1360.8,888.0 L1365.7,890.4 L1370.5,892.7 L1375.4,894.7 L1380.3,896.7 L1385.2,898.5 L1390.0,900.2 L1394.9,901.9 L1399.8,903.4 L1404.7,904.9 L1409.5,906.3 L1414.4,907.6 L1419.3,908.9 L1424.2,910.2 L1429.0,911.3 L1433.9,912.5 L1438.8,913.6 L1443.7,914.6 L1448.5,915.6 L1453.4,916.6 L1458.3,917.6 L1463.2,918.5 L1468.0,919.4 L1472.9,920.3 L1477.8,921.1 L1482.7,922.0 L1487.5,922.8 L1492.4,923.5 L1497.3,924.3 L1502.2,925.0 L1507.0,925.8 L1511.9,926.5 L1516.8,927.2 L1521.7,927.8 L1526.5,928.5 L1531.4,929.2 L1536.3,929.8 L1541.2,930.4 L1546.0,931.0 L1550.9,931.6 L1555.8,932.2 L1560.7,932.8 L1565.5,933.3 L1570.4,933.9 L1575.3,934.4 L1580.2,934.9 L1585.0,935.5 L1589.9,936.0 L1594.8,936.5 L1599.7,937.0 L1604.5,937.5 L1609.4,938.0 L1614.3,938.4 L1619.2,938.9 L1624.0,939.4 L1628.9,939.8 L1633.8,940.3 L1638.7,940.7 L1643.5,941.1 L1648.4,941.6 L1653.3,942.0 L1658.2,942.4 L1663.0,942.8 L1667.9,943.2 L1672.8,943.6 L1677.7,944.0 L1682.5,944.4 L1687.4,944.8 L1692.3,945.1 L1697.2,945.5 L1702.0,945.9 L1706.9,946.2 L1711.8,946.6 L1716.7,947.0 L1721.5,947.3 L1726.4,947.7 L1731.3,948.0 L1736.2,948.3 L1741.0,948.7 L1745.9,949.0" stroke="#a0b07e" stroke-width="1.8" fill="none" stroke-linecap="round" stroke-linejoin="round"/>
<path d="M1359.8,1005.4 L1362.7,999.4 L1365.6,993.7 L1368.5,988.2 L1371.4,983.0 L1374.3,978.1 L1377.2,973.3 L1380.1,968.7 L1383.0,964.3 L1385.9,960.1 L1388.8,956.0 L1391.7,952.0 L1394.6,948.2 L1397.5,944.5 L1400.4,940.9 L1403.3,937.4 L1406.2,934.0 L1409.1,930.7 L1412.0,927.5 L1414.9,924.4 L1417.9,921.3 L1420.8,918.4 L1423.7,915.5 L1426.6,912.7 L1429.5,909.9 L1432.4,907.2 L1435.3,904.6 L1438.2,902.0 L1441.1,899.5 L1444.0,897.1 L1446.9,894.7 L1449.8,892.3 L1452.7,890.0 L1455.6,887.7 L1458.5,885.5 L1461.4,883.3 L1464.3,881.1 L1467.2,879.0 L1470.1,877.0 L1473.0,874.9 L1475.9,872.9 L1478.8,871.0 L1481.7,869.0 L1484.6,867.1 L1487.5,865.3 L1490.4,863.4 L1493.3,861.6 L1496.2,859.8 L1499.1,858.1 L1502.0,856.3 L1504.9,854.6 L1507.8,852.9 L1510.7,851.3 L1513.6,849.6 L1516.5,848.0 L1519.4,846.4 L1522.3,844.9 L1525.2,843.3 L1528.1,841.8 L1531.0,840.3 L1534.0,838.8 L1536.9,837.3 L1539.8,835.9 L1542.7,834.4 L1545.6,833.0 L1548.5,831.6 L1551.4,830.2 L1554.3,828.9 L1557.2,827.5 L1560.1,826.2 L1563.0,824.8 L1565.9,823.5 L1568.8,822.2 L1571.7,821.0 L1574.6,819.7 L1577.5,818.5 L1580.4,817.2 L1583.3,816.0 L1586.2,814.8 L1589.1,813.6" stroke="#3f9cc4" stroke-width="2.0" fill="none" stroke-linecap="round" stroke-linejoin="round"/>
<path d="M1439.6,1015.5 L1446.1,1009.4 L1452.7,1003.6 L1459.2,998.0 L1465.7,992.7 L1472.2,987.5 L1478.8,982.6 L1485.3,977.8 L1491.8,973.1 L1498.4,968.7 L1504.9,964.4 L1511.4,960.2 L1517.9,956.1 L1524.5,952.1 L1531.0,948.3 L1537.5,944.6 L1544.0,940.9 L1550.6,937.4 L1557.1,933.9 L1563.6,930.6 L1570.2,927.3 L1576.7,924.1 L1583.2,921.0 L1589.7,917.9 L1596.3,914.9 L1602.8,912.0 L1609.3,909.1 L1615.9,906.3 L1622.4,903.6 L1628.9,900.9 L1635.4,898.2 L1642.0,895.6 L1648.5,893.1 L1655.0,890.6 L1661.5,888.1 L1668.1,885.7 L1674.6,883.3 L1681.1,881.0 L1687.7,878.7 L1694.2,876.5 L1700.7,874.3 L1707.2,872.1 L1713.8,869.9 L1720.3,867.8 L1726.8,865.8 L1733.4,863.7 L1739.9,861.7 L1746.4,859.7 L1752.9,857.8 L1759.5,855.8 L1766.0,853.9 L1772.5,852.0 L1779.0,850.2 L1785.6,848.4 L1792.1,846.6 L1798.6,844.8 L1805.2,843.0 L1811.7,841.3 L1818.2,839.6 L1824.7,837.9 L1831.3,836.2 L1837.8,834.6 L1844.3,832.9 L1850.9,831.3 L1857.4,829.7 L1863.9,828.2 L1870.4,826.6 L1877.0,825.1 L1883.5,823.6 L1890.0,822.1 L1896.5,820.6 L1903.1,819.1 L1909.6,817.6 L1916.1,816.2 L1922.7,814.8 L1929.2,813.4 L1935.7,812.0 L1942.2,810.6 L1948.8,809.2 L1955.3,807.9" stroke="#b93a4c" stroke-width="2.0" fill="none" stroke-linecap="round" stroke-linejoin="round"/>
<circle cx="1513.4" cy="709.4" r="7.2" fill="#0a9fe0"/>
<circle cx="1522.3" cy="744.7" r="7.2" fill="#0a9fe0"/>
<circle cx="1557.6" cy="766.1" r="7.2" fill="#0a9fe0"/>
<circle cx="1506.8" cy="775.0" r="7.2" fill="#0a9fe0"/>
<circle cx="1599.7" cy="855.0" r="7.2" fill="#0a9fe0"/>
<circle cx="1368.8" cy="899.3" r="7.2" fill="#0a9fe0"/>
<circle cx="1432.6" cy="911.0" r="7.2" fill="#0a9fe0"/>
<circle cx="1412.7" cy="936.9" r="7.2" fill="#0a9fe0"/>
<circle cx="1431.6" cy="944.9" r="7.2" fill="#0a9fe0"/>
<circle cx="1365.2" cy="946.5" r="7.2" fill="#0a9fe0"/>
<circle cx="1384.8" cy="960.8" r="7.2" fill="#0a9fe0"/>
<circle cx="1423.0" cy="958.4" r="7.2" fill="#0a9fe0"/>
<circle cx="1444.0" cy="958.4" r="7.2" fill="#0a9fe0"/>
<circle cx="1362.8" cy="991.3" r="7.2" fill="#0a9fe0"/>
<circle cx="1386.7" cy="1012.7" r="7.2" fill="#0a9fe0"/>
<circle cx="1396.7" cy="1010.3" r="7.2" fill="#0a9fe0"/>
<circle cx="1544.3" cy="967.8" r="7.2" fill="#0a9fe0"/>
<circle cx="1440.6" cy="1031.6" r="7.2" fill="#0a9fe0"/>
<circle cx="1661.5" cy="775.0" r="7.2" fill="#e4081c"/>
<circle cx="1714.0" cy="744.4" r="7.2" fill="#e4081c"/>
<circle cx="1723.0" cy="709.2" r="7.2" fill="#e4081c"/>
<circle cx="1725.5" cy="765.7" r="7.2" fill="#e4081c"/>
<circle cx="1740.9" cy="854.4" r="7.2" fill="#e4081c"/>
<circle cx="1960.2" cy="899.3" r="7.2" fill="#e4081c"/>
<circle cx="1445.2" cy="912.0" r="7.2" fill="#e4081c"/>
<circle cx="1553.8" cy="936.3" r="7.2" fill="#e4081c"/>
<circle cx="1513.4" cy="946.9" r="7.2" fill="#e4081c"/>
<circle cx="1628.0" cy="944.3" r="7.2" fill="#e4081c"/>
<circle cx="1540.7" cy="959.4" r="7.2" fill="#e4081c"/>
<circle cx="1632.0" cy="961.4" r="7.2" fill="#e4081c"/>
<circle cx="1643.6" cy="965.8" r="7.2" fill="#e4081c"/>
<circle cx="1515.4" cy="991.7" r="7.2" fill="#e4081c"/>
<circle cx="1503.4" cy="1009.7" r="7.2" fill="#e4081c"/>
<circle cx="1506.4" cy="1016.6" r="7.2" fill="#e4081c"/>
<circle cx="1563.8" cy="1031.6" r="7.2" fill="#e4081c"/>
<circle cx="1756.9" cy="958.8" r="7.2" fill="#e4081c"/>
<circle cx="1407.3" cy="709.4" r="7.2" fill="#9aba52"/>
<circle cx="1398.3" cy="744.7" r="7.2" fill="#9aba52"/>
<circle cx="1407.3" cy="766.1" r="7.2" fill="#9aba52"/>
<circle cx="1466.9" cy="775.0" r="7.2" fill="#9aba52"/>
<circle cx="1439.6" cy="854.4" r="7.2" fill="#9aba52"/>
<circle cx="1374.8" cy="897.3" r="7.2" fill="#9aba52"/>
<circle cx="1387.1" cy="911.6" r="7.2" fill="#9aba52"/>
<circle cx="1424.6" cy="942.5" r="7.2" fill="#9aba52"/>
<circle cx="1393.7" cy="965.8" r="7.2" fill="#9aba52"/>
<circle cx="1436.0" cy="960.8" r="7.2" fill="#9aba52"/>
<circle cx="1371.8" cy="991.7" r="7.2" fill="#9aba52"/>
<circle cx="1367.4" cy="1010.3" r="7.2" fill="#9aba52"/>
<circle cx="1402.7" cy="1010.3" r="7.2" fill="#9aba52"/>
<circle cx="1520.3" cy="946.9" r="7.2" fill="#9aba52"/>
<circle cx="1575.6" cy="960.8" r="7.2" fill="#9aba52"/>
<circle cx="1590.5" cy="958.4" r="7.2" fill="#9aba52"/>
<circle cx="1632.6" cy="1030.6" r="7.2" fill="#9aba52"/>
<circle cx="1752.9" cy="937.5" r="7.2" fill="#9aba52"/>
<text transform="translate(1451.39,822.50) scale(0.887,1)" font-size="43.4" fill="#1c1c1c">R</text>
<text x="1480.65" y="800.50" font-size="30.813999999999997" letter-spacing="0.000" fill="#1c1c1c">2</text>
<text x="1500.89" y="822.50" font-size="43.4" letter-spacing="0.000" fill="#1c1c1c">=</text>
<text x="1530.80" y="822.50" font-size="43.4" letter-spacing="1.712" fill="#1c1c1c">0.39</text>
<text transform="translate(1781.69,823.50) scale(0.887,1)" font-size="43.4" fill="#1c1c1c">R</text>
<text x="1810.95" y="801.50" font-size="30.813999999999997" letter-spacing="0.000" fill="#1c1c1c">2</text>
<text x="1831.19" y="823.50" font-size="43.4" letter-spacing="0.000" fill="#1c1c1c">=</text>
<text x="1861.10" y="823.50" font-size="43.4" letter-spacing="1.503" fill="#1c1c1c">0.28</text>
<text transform="translate(1646.89,950.80) scale(0.887,1)" font-size="43.4" fill="#1c1c1c">R</text>
<text x="1676.15" y="928.80" font-size="30.813999999999997" letter-spacing="0.000" fill="#1c1c1c">2</text>
<text x="1696.39" y="950.80" font-size="43.4" letter-spacing="0.000" fill="#1c1c1c">=</text>
<text x="1726.30" y="950.80" font-size="43.4" letter-spacing="0.383" fill="#1c1c1c">0.03</text>
<text x="1677.57" y="722.30" font-size="53.0" letter-spacing="2.430" fill="#1c1c1c">(d)</text>
<circle cx="1895.2" cy="1015.3" r="7.2" fill="#9aba52"/>
<text x="1924.06" y="1032.20" font-size="44.0" letter-spacing="1.587" fill="#1c1c1c">Smectite</text>
<circle cx="1895.2" cy="1064.4" r="7.2" fill="#e4081c"/>
<text x="1925.41" y="1081.30" font-size="44.0" letter-spacing="1.435" fill="#1c1c1c">I/S</text>
<circle cx="1895.2" cy="1113.5" r="7.2" fill="#0a9fe0"/>
<text x="1925.41" y="1130.40" font-size="44.0" letter-spacing="1.567" fill="#1c1c1c">Illite</text>
<path d="M236.20,1766.60V1780.60M400.55,1766.60V1780.60M563.65,1766.60V1780.60M729.20,1766.60V1780.60M893.50,1766.60V1780.60M1052.40,1766.60V1780.60M236.20,1766.60H222.20M236.20,1603.80H222.20M236.20,1438.90H222.20M236.20,1273.80H222.20" stroke="#333333" stroke-width="2" fill="none"/>
<rect x="236.20" y="1273.80" width="816.70" height="492.80" stroke="#333333" stroke-width="2" fill="none"/>
<text x="225.28" y="1818.20" font-size="44.5" letter-spacing="1.000" fill="#1c1c1c">0</text>
<text x="378.64" y="1818.20" font-size="44.5" letter-spacing="1.000" fill="#1c1c1c">10</text>
<text x="540.62" y="1818.20" font-size="44.5" letter-spacing="1.000" fill="#1c1c1c">20</text>
<text x="705.13" y="1818.20" font-size="44.5" letter-spacing="1.000" fill="#1c1c1c">30</text>
<text x="869.36" y="1818.20" font-size="44.5" letter-spacing="1.000" fill="#1c1c1c">40</text>
<text x="1031.10" y="1818.20" font-size="44.5" letter-spacing="1.000" fill="#1c1c1c">50</text>
<text x="191.14" y="1780.80" font-size="44.5" letter-spacing="0.800" fill="#1c1c1c">0</text>
<text x="156.17" y="1617.20" font-size="44.5" letter-spacing="0.800" fill="#1c1c1c">5.0</text>
<text x="133.72" y="1450.40" font-size="44.5" letter-spacing="0.800" fill="#1c1c1c">10.0</text>
<text x="133.72" y="1286.90" font-size="44.5" letter-spacing="0.800" fill="#1c1c1c">15.0</text>
<text x="480.00" y="1860.70" font-size="44.0" letter-spacing="1.131" fill="#1c1c1c">Clay minerals(%)</text>
<path d="M296.8,1595.9 L301.7,1597.5 L306.5,1599.0 L311.4,1600.5 L316.3,1602.0 L321.2,1603.5 L326.0,1604.9 L330.9,1606.3 L335.8,1607.6 L340.7,1608.9 L345.5,1610.2 L350.4,1611.4 L355.3,1612.6 L360.2,1613.8 L365.0,1614.9 L369.9,1616.0 L374.8,1617.1 L379.7,1618.1 L384.5,1619.1 L389.4,1620.1 L394.3,1621.1 L399.2,1622.0 L404.0,1622.9 L408.9,1623.8 L413.8,1624.6 L418.7,1625.4 L423.5,1626.2 L428.4,1627.0 L433.3,1627.7 L438.2,1628.5 L443.0,1629.2 L447.9,1629.8 L452.8,1630.5 L457.7,1631.1 L462.5,1631.7 L467.4,1632.3 L472.3,1632.9 L477.2,1633.4 L482.0,1634.0 L486.9,1634.5 L491.8,1635.0 L496.7,1635.4 L501.5,1635.9 L506.4,1636.4 L511.3,1636.8 L516.2,1637.2 L521.0,1637.6 L525.9,1638.0 L530.8,1638.4 L535.7,1638.7 L540.5,1639.1 L545.4,1639.4 L550.3,1639.8 L555.2,1640.1 L560.0,1640.4 L564.9,1640.7 L569.8,1641.0 L574.7,1641.3 L579.5,1641.6 L584.4,1641.8 L589.3,1642.1 L594.2,1642.3 L599.0,1642.6 L603.9,1642.9 L608.8,1643.1 L613.7,1643.3 L618.5,1643.6 L623.4,1643.8 L628.3,1644.1 L633.2,1644.3 L638.0,1644.5 L642.9,1644.8 L647.8,1645.0 L652.7,1645.2 L657.5,1645.5 L662.4,1645.7 L667.3,1646.0 L672.2,1646.2 L677.0,1646.5 L681.9,1646.7" stroke="#a0b07e" stroke-width="1.8" fill="none" stroke-linecap="round" stroke-linejoin="round"/>
<path d="M297.8,1672.9 L300.7,1670.2 L303.5,1667.5 L306.4,1664.8 L309.2,1662.2 L312.1,1659.7 L314.9,1657.1 L317.8,1654.6 L320.6,1652.2 L323.5,1649.8 L326.3,1647.4 L329.2,1645.0 L332.0,1642.7 L334.9,1640.5 L337.7,1638.2 L340.6,1636.0 L343.4,1633.8 L346.3,1631.7 L349.1,1629.6 L352.0,1627.5 L354.8,1625.5 L357.7,1623.5 L360.5,1621.5 L363.4,1619.6 L366.2,1617.6 L369.1,1615.8 L371.9,1613.9 L374.8,1612.1 L377.7,1610.3 L380.5,1608.5 L383.4,1606.8 L386.2,1605.1 L389.1,1603.4 L391.9,1601.8 L394.8,1600.1 L397.6,1598.5 L400.5,1597.0 L403.3,1595.4 L406.2,1593.9 L409.0,1592.4 L411.9,1590.9 L414.7,1589.5 L417.6,1588.1 L420.4,1586.7 L423.3,1585.3 L426.1,1583.9 L429.0,1582.6 L431.8,1581.3 L434.7,1580.0 L437.5,1578.8 L440.4,1577.5 L443.2,1576.3 L446.1,1575.1 L449.0,1573.9 L451.8,1572.8 L454.7,1571.6 L457.5,1570.5 L460.4,1569.4 L463.2,1568.3 L466.1,1567.2 L468.9,1566.2 L471.8,1565.1 L474.6,1564.1 L477.5,1563.1 L480.3,1562.1 L483.2,1561.1 L486.0,1560.2 L488.9,1559.2 L491.7,1558.3 L494.6,1557.4 L497.4,1556.5 L500.3,1555.6 L503.1,1554.7 L506.0,1553.9 L508.8,1553.0 L511.7,1552.2 L514.5,1551.3 L517.4,1550.5 L520.2,1549.7 L523.1,1548.9" stroke="#3f9cc4" stroke-width="2.0" fill="none" stroke-linecap="round" stroke-linejoin="round"/>
<path d="M373.6,1707.0 L380.1,1702.5 L386.6,1698.0 L393.0,1693.6 L399.5,1689.4 L406.0,1685.2 L412.5,1681.1 L418.9,1677.1 L425.4,1673.2 L431.9,1669.4 L438.4,1665.6 L444.8,1662.0 L451.3,1658.4 L457.8,1654.9 L464.3,1651.5 L470.8,1648.2 L477.2,1644.9 L483.7,1641.7 L490.2,1638.6 L496.7,1635.6 L503.1,1632.6 L509.6,1629.7 L516.1,1626.9 L522.6,1624.1 L529.1,1621.4 L535.5,1618.7 L542.0,1616.2 L548.5,1613.6 L555.0,1611.2 L561.4,1608.7 L567.9,1606.4 L574.4,1604.1 L580.9,1601.8 L587.3,1599.6 L593.8,1597.5 L600.3,1595.4 L606.8,1593.3 L613.3,1591.3 L619.7,1589.3 L626.2,1587.4 L632.7,1585.5 L639.2,1583.6 L645.6,1581.8 L652.1,1580.0 L658.6,1578.2 L665.1,1576.5 L671.6,1574.8 L678.0,1573.2 L684.5,1571.5 L691.0,1569.9 L697.5,1568.3 L703.9,1566.7 L710.4,1565.2 L716.9,1563.7 L723.4,1562.2 L729.8,1560.7 L736.3,1559.2 L742.8,1557.7 L749.3,1556.3 L755.8,1554.8 L762.2,1553.4 L768.7,1552.0 L775.2,1550.5 L781.7,1549.1 L788.1,1547.7 L794.6,1546.3 L801.1,1544.9 L807.6,1543.4 L814.1,1542.0 L820.5,1540.6 L827.0,1539.2 L833.5,1537.7 L840.0,1536.3 L846.4,1534.8 L852.9,1533.3 L859.4,1531.8 L865.9,1530.3 L872.3,1528.8 L878.8,1527.3 L885.3,1525.7" stroke="#b93a4c" stroke-width="2.0" fill="none" stroke-linecap="round" stroke-linejoin="round"/>
<circle cx="454.0" cy="1434.1" r="7.2" fill="#0a9fe0"/>
<circle cx="444.4" cy="1446.5" r="7.2" fill="#0a9fe0"/>
<circle cx="489.8" cy="1539.5" r="7.2" fill="#0a9fe0"/>
<circle cx="301.4" cy="1551.5" r="7.2" fill="#0a9fe0"/>
<circle cx="476.3" cy="1583.8" r="7.2" fill="#0a9fe0"/>
<circle cx="346.7" cy="1594.2" r="7.2" fill="#0a9fe0"/>
<circle cx="356.6" cy="1622.7" r="7.2" fill="#0a9fe0"/>
<circle cx="530.1" cy="1622.7" r="7.2" fill="#0a9fe0"/>
<circle cx="364.6" cy="1643.6" r="7.2" fill="#0a9fe0"/>
<circle cx="438.4" cy="1643.6" r="7.2" fill="#0a9fe0"/>
<circle cx="374.6" cy="1653.2" r="7.2" fill="#0a9fe0"/>
<circle cx="316.8" cy="1656.2" r="7.2" fill="#0a9fe0"/>
<circle cx="297.2" cy="1677.1" r="7.2" fill="#0a9fe0"/>
<circle cx="320.7" cy="1674.9" r="7.2" fill="#0a9fe0"/>
<circle cx="328.7" cy="1689.5" r="7.2" fill="#0a9fe0"/>
<circle cx="372.2" cy="1686.5" r="7.2" fill="#0a9fe0"/>
<circle cx="294.8" cy="1703.4" r="7.2" fill="#0a9fe0"/>
<circle cx="648.0" cy="1434.1" r="7.2" fill="#e4081c"/>
<circle cx="656.0" cy="1446.5" r="7.2" fill="#e4081c"/>
<circle cx="485.3" cy="1594.4" r="7.2" fill="#e4081c"/>
<circle cx="577.0" cy="1582.4" r="7.2" fill="#e4081c"/>
<circle cx="472.3" cy="1653.2" r="7.2" fill="#e4081c"/>
<circle cx="560.0" cy="1645.6" r="7.2" fill="#e4081c"/>
<circle cx="566.4" cy="1656.6" r="7.2" fill="#e4081c"/>
<circle cx="593.9" cy="1643.6" r="7.2" fill="#e4081c"/>
<circle cx="438.4" cy="1674.9" r="7.2" fill="#e4081c"/>
<circle cx="448.4" cy="1677.5" r="7.2" fill="#e4081c"/>
<circle cx="495.8" cy="1686.9" r="7.2" fill="#e4081c"/>
<circle cx="436.4" cy="1691.5" r="7.2" fill="#e4081c"/>
<circle cx="447.0" cy="1703.4" r="7.2" fill="#e4081c"/>
<circle cx="658.4" cy="1539.5" r="7.2" fill="#e4081c"/>
<circle cx="887.7" cy="1551.9" r="7.2" fill="#e4081c"/>
<circle cx="670.9" cy="1623.7" r="7.2" fill="#e4081c"/>
<circle cx="687.9" cy="1622.7" r="7.2" fill="#e4081c"/>
<circle cx="329.3" cy="1434.1" r="7.2" fill="#9aba52"/>
<circle cx="340.3" cy="1446.5" r="7.2" fill="#9aba52"/>
<circle cx="338.1" cy="1539.5" r="7.2" fill="#9aba52"/>
<circle cx="308.4" cy="1551.5" r="7.2" fill="#9aba52"/>
<circle cx="327.3" cy="1585.4" r="7.2" fill="#9aba52"/>
<circle cx="320.7" cy="1620.1" r="7.2" fill="#9aba52"/>
<circle cx="372.6" cy="1620.7" r="7.2" fill="#9aba52"/>
<circle cx="521.1" cy="1622.3" r="7.2" fill="#9aba52"/>
<circle cx="356.6" cy="1646.6" r="7.2" fill="#9aba52"/>
<circle cx="399.9" cy="1643.6" r="7.2" fill="#9aba52"/>
<circle cx="367.6" cy="1656.2" r="7.2" fill="#9aba52"/>
<circle cx="504.2" cy="1653.2" r="7.2" fill="#9aba52"/>
<circle cx="335.7" cy="1674.9" r="7.2" fill="#9aba52"/>
<circle cx="455.0" cy="1677.5" r="7.2" fill="#9aba52"/>
<circle cx="299.4" cy="1691.9" r="7.2" fill="#9aba52"/>
<circle cx="304.2" cy="1703.4" r="7.2" fill="#9aba52"/>
<circle cx="566.0" cy="1686.9" r="7.2" fill="#9aba52"/>
<circle cx="685.9" cy="1593.8" r="7.2" fill="#9aba52"/>
<text transform="translate(357.49,1557.90) scale(0.887,1)" font-size="43.4" fill="#1c1c1c">R</text>
<text x="386.75" y="1535.90" font-size="30.813999999999997" letter-spacing="0.000" fill="#1c1c1c">2</text>
<text x="406.99" y="1557.90" font-size="43.4" letter-spacing="0.000" fill="#1c1c1c">=</text>
<text x="436.90" y="1557.90" font-size="43.4" letter-spacing="1.712" fill="#1c1c1c">0.29</text>
<text transform="translate(731.59,1536.00) scale(0.887,1)" font-size="43.4" fill="#1c1c1c">R</text>
<text x="760.85" y="1514.00" font-size="30.813999999999997" letter-spacing="0.000" fill="#1c1c1c">2</text>
<text x="781.09" y="1536.00" font-size="43.4" letter-spacing="0.000" fill="#1c1c1c">=</text>
<text x="811.00" y="1536.00" font-size="43.4" letter-spacing="0.344" fill="#1c1c1c">0.34</text>
<text transform="translate(587.89,1674.50) scale(0.887,1)" font-size="43.4" fill="#1c1c1c">R</text>
<text x="617.15" y="1652.50" font-size="30.813999999999997" letter-spacing="0.000" fill="#1c1c1c">2</text>
<text x="637.39" y="1674.50" font-size="43.4" letter-spacing="0.000" fill="#1c1c1c">=</text>
<text x="667.30" y="1674.50" font-size="43.4" letter-spacing="0.717" fill="#1c1c1c">0.03</text>
<text x="612.57" y="1338.60" font-size="53.0" letter-spacing="2.918" fill="#1c1c1c">(e)</text>
<circle cx="829.0" cy="1311.3" r="7.2" fill="#9aba52"/>
<text x="857.86" y="1328.20" font-size="44.0" letter-spacing="1.587" fill="#1c1c1c">Smectite</text>
<circle cx="829.0" cy="1360.4" r="7.2" fill="#e4081c"/>
<text x="859.21" y="1377.30" font-size="44.0" letter-spacing="1.435" fill="#1c1c1c">I/S</text>
<circle cx="829.0" cy="1409.5" r="7.2" fill="#0a9fe0"/>
<text x="859.21" y="1426.40" font-size="44.0" letter-spacing="1.567" fill="#1c1c1c">Illite</text>
<path d="M1302.40,1766.60V1780.60M1466.75,1766.60V1780.60M1629.85,1766.60V1780.60M1795.40,1766.60V1780.60M1959.70,1766.60V1780.60M2118.60,1766.60V1780.60M1302.40,1766.60H1288.40M1302.40,1603.80H1288.40M1302.40,1438.90H1288.40M1302.40,1273.80H1288.40" stroke="#333333" stroke-width="2" fill="none"/>
<rect x="1302.40" y="1273.80" width="816.20" height="492.80" stroke="#333333" stroke-width="2" fill="none"/>
<text x="1291.38" y="1817.80" font-size="44.5" letter-spacing="1.000" fill="#1c1c1c">0</text>
<text x="1444.74" y="1817.80" font-size="44.5" letter-spacing="1.000" fill="#1c1c1c">10</text>
<text x="1606.72" y="1817.80" font-size="44.5" letter-spacing="1.000" fill="#1c1c1c">20</text>
<text x="1772.63" y="1817.80" font-size="44.5" letter-spacing="1.000" fill="#1c1c1c">30</text>
<text x="1934.96" y="1817.80" font-size="44.5" letter-spacing="1.000" fill="#1c1c1c">40</text>
<text x="2097.90" y="1817.80" font-size="44.5" letter-spacing="1.000" fill="#1c1c1c">50</text>
<text x="1261.74" y="1780.80" font-size="44.5" letter-spacing="0.800" fill="#1c1c1c">0</text>
<text x="1223.26" y="1617.20" font-size="44.5" letter-spacing="0.800" fill="#1c1c1c">0.7</text>
<text x="1223.97" y="1450.10" font-size="44.5" letter-spacing="0.800" fill="#1c1c1c">1.4</text>
<text x="1224.05" y="1287.80" font-size="44.5" letter-spacing="0.800" fill="#1c1c1c">2.1</text>
<text x="1546.30" y="1860.70" font-size="44.0" letter-spacing="1.111" fill="#1c1c1c">Clay minerals(%)</text>
<path d="M1365.1,1619.6 L1369.8,1622.6 L1374.6,1625.5 L1379.3,1628.3 L1384.1,1631.0 L1388.8,1633.7 L1393.6,1636.3 L1398.3,1638.9 L1403.1,1641.4 L1407.8,1643.8 L1412.5,1646.2 L1417.3,1648.5 L1422.0,1650.8 L1426.8,1653.0 L1431.5,1655.2 L1436.3,1657.3 L1441.0,1659.3 L1445.8,1661.3 L1450.5,1663.3 L1455.2,1665.2 L1460.0,1667.0 L1464.7,1668.8 L1469.5,1670.5 L1474.2,1672.2 L1479.0,1673.9 L1483.7,1675.5 L1488.5,1677.1 L1493.2,1678.6 L1497.9,1680.1 L1502.7,1681.5 L1507.4,1682.9 L1512.2,1684.3 L1516.9,1685.6 L1521.7,1686.9 L1526.4,1688.1 L1531.2,1689.3 L1535.9,1690.5 L1540.6,1691.7 L1545.4,1692.8 L1550.1,1693.9 L1554.9,1694.9 L1559.6,1695.9 L1564.4,1696.9 L1569.1,1697.9 L1573.8,1698.8 L1578.6,1699.7 L1583.3,1700.6 L1588.1,1701.5 L1592.8,1702.3 L1597.6,1703.1 L1602.3,1703.9 L1607.1,1704.7 L1611.8,1705.4 L1616.5,1706.2 L1621.3,1706.9 L1626.0,1707.6 L1630.8,1708.2 L1635.5,1708.9 L1640.3,1709.6 L1645.0,1710.2 L1649.8,1710.8 L1654.5,1711.5 L1659.2,1712.1 L1664.0,1712.7 L1668.7,1713.3 L1673.5,1713.8 L1678.2,1714.4 L1683.0,1715.0 L1687.7,1715.6 L1692.5,1716.1 L1697.2,1716.7 L1701.9,1717.2 L1706.7,1717.8 L1711.4,1718.4 L1716.2,1718.9 L1720.9,1719.5 L1725.7,1720.0 L1730.4,1720.6 L1735.2,1721.2 L1739.9,1721.8" stroke="#a0b07e" stroke-width="1.8" fill="none" stroke-linecap="round" stroke-linejoin="round"/>
<path d="M1372.6,1749.5 L1375.4,1743.1 L1378.1,1736.9 L1380.9,1731.0 L1383.6,1725.4 L1386.4,1720.0 L1389.1,1714.8 L1391.9,1709.8 L1394.6,1705.0 L1397.4,1700.4 L1400.1,1695.9 L1402.9,1691.6 L1405.7,1687.4 L1408.4,1683.4 L1411.2,1679.4 L1413.9,1675.6 L1416.7,1671.9 L1419.4,1668.3 L1422.2,1664.8 L1424.9,1661.3 L1427.7,1658.0 L1430.4,1654.7 L1433.2,1651.6 L1436.0,1648.5 L1438.7,1645.4 L1441.5,1642.5 L1444.2,1639.6 L1447.0,1636.7 L1449.7,1634.0 L1452.5,1631.3 L1455.2,1628.6 L1458.0,1626.0 L1460.7,1623.4 L1463.5,1620.9 L1466.3,1618.5 L1469.0,1616.1 L1471.8,1613.7 L1474.5,1611.4 L1477.3,1609.1 L1480.0,1606.8 L1482.8,1604.6 L1485.5,1602.4 L1488.3,1600.3 L1491.0,1598.2 L1493.8,1596.1 L1496.5,1594.1 L1499.3,1592.1 L1502.1,1590.1 L1504.8,1588.1 L1507.6,1586.2 L1510.3,1584.3 L1513.1,1582.5 L1515.8,1580.6 L1518.6,1578.8 L1521.3,1577.0 L1524.1,1575.3 L1526.8,1573.5 L1529.6,1571.8 L1532.4,1570.1 L1535.1,1568.4 L1537.9,1566.8 L1540.6,1565.1 L1543.4,1563.5 L1546.1,1561.9 L1548.9,1560.4 L1551.6,1558.8 L1554.4,1557.3 L1557.1,1555.8 L1559.9,1554.3 L1562.7,1552.8 L1565.4,1551.3 L1568.2,1549.8 L1570.9,1548.4 L1573.7,1547.0 L1576.4,1545.6 L1579.2,1544.2 L1581.9,1542.8 L1584.7,1541.5 L1587.4,1540.1 L1590.2,1538.8" stroke="#3f9cc4" stroke-width="2.0" fill="none" stroke-linecap="round" stroke-linejoin="round"/>
<path d="M1467.3,1761.5 L1473.4,1756.0 L1479.5,1750.7 L1485.6,1745.4 L1491.7,1740.3 L1497.8,1735.2 L1503.9,1730.3 L1510.0,1725.4 L1516.1,1720.6 L1522.2,1715.9 L1528.3,1711.3 L1534.4,1706.8 L1540.5,1702.4 L1546.6,1698.1 L1552.6,1693.8 L1558.7,1689.6 L1564.8,1685.5 L1570.9,1681.5 L1577.0,1677.6 L1583.1,1673.7 L1589.2,1670.0 L1595.3,1666.2 L1601.4,1662.6 L1607.5,1659.0 L1613.6,1655.5 L1619.7,1652.1 L1625.8,1648.7 L1631.9,1645.4 L1638.0,1642.2 L1644.1,1639.0 L1650.2,1635.9 L1656.3,1632.9 L1662.4,1629.9 L1668.5,1626.9 L1674.6,1624.0 L1680.7,1621.2 L1686.8,1618.4 L1692.9,1615.7 L1699.0,1613.0 L1705.1,1610.4 L1711.1,1607.8 L1717.2,1605.2 L1723.3,1602.7 L1729.4,1600.3 L1735.5,1597.9 L1741.6,1595.5 L1747.7,1593.2 L1753.8,1590.9 L1759.9,1588.6 L1766.0,1586.4 L1772.1,1584.2 L1778.2,1582.0 L1784.3,1579.9 L1790.4,1577.7 L1796.5,1575.7 L1802.6,1573.6 L1808.7,1571.6 L1814.8,1569.5 L1820.9,1567.6 L1827.0,1565.6 L1833.1,1563.6 L1839.2,1561.7 L1845.3,1559.8 L1851.4,1557.9 L1857.5,1556.0 L1863.6,1554.1 L1869.6,1552.2 L1875.7,1550.3 L1881.8,1548.5 L1887.9,1546.6 L1894.0,1544.7 L1900.1,1542.9 L1906.2,1541.0 L1912.3,1539.2 L1918.4,1537.3 L1924.5,1535.5 L1930.6,1533.6 L1936.7,1531.8 L1942.8,1529.9 L1948.9,1528.0" stroke="#b93a4c" stroke-width="2.0" fill="none" stroke-linecap="round" stroke-linejoin="round"/>
<circle cx="1552.8" cy="1352.2" r="7.2" fill="#0a9fe0"/>
<circle cx="1593.5" cy="1463.0" r="7.2" fill="#0a9fe0"/>
<circle cx="1507.4" cy="1525.0" r="7.2" fill="#0a9fe0"/>
<circle cx="1540.3" cy="1523.0" r="7.2" fill="#0a9fe0"/>
<circle cx="1382.8" cy="1583.4" r="7.2" fill="#0a9fe0"/>
<circle cx="1517.4" cy="1608.3" r="7.2" fill="#0a9fe0"/>
<circle cx="1365.8" cy="1668.5" r="7.2" fill="#0a9fe0"/>
<circle cx="1361.4" cy="1687.1" r="7.2" fill="#0a9fe0"/>
<circle cx="1501.0" cy="1709.4" r="7.2" fill="#0a9fe0"/>
<circle cx="1431.6" cy="1729.0" r="7.2" fill="#0a9fe0"/>
<circle cx="1410.7" cy="1739.7" r="7.2" fill="#0a9fe0"/>
<circle cx="1419.6" cy="1744.9" r="7.2" fill="#0a9fe0"/>
<circle cx="1427.6" cy="1744.9" r="7.2" fill="#0a9fe0"/>
<circle cx="1435.2" cy="1751.3" r="7.2" fill="#0a9fe0"/>
<circle cx="1359.8" cy="1757.3" r="7.2" fill="#0a9fe0"/>
<circle cx="1385.7" cy="1755.3" r="7.2" fill="#0a9fe0"/>
<circle cx="1393.7" cy="1750.3" r="7.2" fill="#0a9fe0"/>
<circle cx="1640.4" cy="1523.6" r="7.2" fill="#e4081c"/>
<circle cx="1629.6" cy="1583.4" r="7.2" fill="#e4081c"/>
<circle cx="1710.5" cy="1611.0" r="7.2" fill="#e4081c"/>
<circle cx="1512.4" cy="1687.1" r="7.2" fill="#e4081c"/>
<circle cx="1656.9" cy="1709.8" r="7.2" fill="#e4081c"/>
<circle cx="1625.4" cy="1729.0" r="7.2" fill="#e4081c"/>
<circle cx="1442.6" cy="1745.7" r="7.2" fill="#e4081c"/>
<circle cx="1495.4" cy="1744.3" r="7.2" fill="#e4081c"/>
<circle cx="1503.4" cy="1752.3" r="7.2" fill="#e4081c"/>
<circle cx="1510.4" cy="1756.3" r="7.2" fill="#e4081c"/>
<circle cx="1535.7" cy="1744.9" r="7.2" fill="#e4081c"/>
<circle cx="1550.9" cy="1739.3" r="7.2" fill="#e4081c"/>
<circle cx="1558.8" cy="1750.3" r="7.2" fill="#e4081c"/>
<circle cx="1723.4" cy="1352.4" r="7.2" fill="#e4081c"/>
<circle cx="1740.3" cy="1461.4" r="7.2" fill="#e4081c"/>
<circle cx="1719.0" cy="1528.0" r="7.2" fill="#e4081c"/>
<circle cx="1953.3" cy="1668.5" r="7.2" fill="#e4081c"/>
<circle cx="1750.9" cy="1746.3" r="7.2" fill="#e4081c"/>
<circle cx="1404.1" cy="1352.2" r="7.2" fill="#9aba52"/>
<circle cx="1437.6" cy="1463.0" r="7.2" fill="#9aba52"/>
<circle cx="1391.3" cy="1523.0" r="7.2" fill="#9aba52"/>
<circle cx="1403.7" cy="1527.6" r="7.2" fill="#9aba52"/>
<circle cx="1433.6" cy="1583.4" r="7.2" fill="#9aba52"/>
<circle cx="1395.3" cy="1608.7" r="7.2" fill="#9aba52"/>
<circle cx="1373.8" cy="1668.9" r="7.2" fill="#9aba52"/>
<circle cx="1518.3" cy="1687.1" r="7.2" fill="#9aba52"/>
<circle cx="1463.5" cy="1710.4" r="7.2" fill="#9aba52"/>
<circle cx="1425.6" cy="1729.0" r="7.2" fill="#9aba52"/>
<circle cx="1384.8" cy="1744.3" r="7.2" fill="#9aba52"/>
<circle cx="1362.8" cy="1749.3" r="7.2" fill="#9aba52"/>
<circle cx="1369.8" cy="1756.3" r="7.2" fill="#9aba52"/>
<circle cx="1399.7" cy="1754.3" r="7.2" fill="#9aba52"/>
<circle cx="1570.2" cy="1744.9" r="7.2" fill="#9aba52"/>
<circle cx="1584.8" cy="1744.9" r="7.2" fill="#9aba52"/>
<circle cx="1629.0" cy="1749.7" r="7.2" fill="#9aba52"/>
<circle cx="1748.9" cy="1739.3" r="7.2" fill="#9aba52"/>
<text transform="translate(1416.19,1563.50) scale(0.887,1)" font-size="43.4" fill="#1c1c1c">R</text>
<text x="1445.45" y="1541.50" font-size="30.813999999999997" letter-spacing="0.000" fill="#1c1c1c">2</text>
<text x="1465.69" y="1563.50" font-size="43.4" letter-spacing="0.000" fill="#1c1c1c">=</text>
<text x="1495.60" y="1563.50" font-size="43.4" letter-spacing="0.087" fill="#1c1c1c">0.41</text>
<text transform="translate(1796.59,1538.90) scale(0.887,1)" font-size="43.4" fill="#1c1c1c">R</text>
<text x="1825.85" y="1516.90" font-size="30.813999999999997" letter-spacing="0.000" fill="#1c1c1c">2</text>
<text x="1846.09" y="1538.90" font-size="43.4" letter-spacing="0.000" fill="#1c1c1c">=</text>
<text x="1876.00" y="1538.90" font-size="43.4" letter-spacing="-3.075" fill="#1c1c1c">0.3</text>
<text transform="translate(1699.89,1710.40) scale(0.887,1)" font-size="43.4" fill="#1c1c1c">R</text>
<text x="1729.15" y="1688.40" font-size="30.813999999999997" letter-spacing="0.000" fill="#1c1c1c">2</text>
<text x="1749.39" y="1710.40" font-size="43.4" letter-spacing="0.000" fill="#1c1c1c">=</text>
<text x="1779.30" y="1710.40" font-size="43.4" letter-spacing="1.849" fill="#1c1c1c">0.06</text>
<text x="1681.57" y="1338.60" font-size="53.0" letter-spacing="2.855" fill="#1c1c1c">(f)</text>
<circle cx="1895.2" cy="1311.3" r="7.2" fill="#9aba52"/>
<text x="1924.06" y="1328.20" font-size="44.0" letter-spacing="1.587" fill="#1c1c1c">Smectite</text>
<circle cx="1895.2" cy="1360.4" r="7.2" fill="#e4081c"/>
<text x="1925.41" y="1377.30" font-size="44.0" letter-spacing="1.435" fill="#1c1c1c">I/S</text>
<circle cx="1895.2" cy="1409.5" r="7.2" fill="#0a9fe0"/>
<text x="1925.41" y="1426.40" font-size="44.0" letter-spacing="1.567" fill="#1c1c1c">Illite</text>
<g transform="translate(53.50,544.70) rotate(-90)"><text x="-0.79" y="0.00" font-size="44.00" letter-spacing="1.041" fill="#1c1c1c">TOC-normalized micropore</text></g>
<g transform="translate(101.00,439.20) rotate(-90)"><text x="-0.00" y="0.00" font-size="44.00" letter-spacing="1.759" fill="#1c1c1c">volume(cm</text><text x="216.22" y="-18.48" font-size="29.92" letter-spacing="1.759" fill="#1c1c1c">3</text><text x="232.94" y="0.00" font-size="44.00" letter-spacing="1.759" fill="#1c1c1c">/g)</text></g>
<g transform="translate(1120.50,539.20) rotate(-90)"><text x="-0.79" y="0.00" font-size="44.00" letter-spacing="1.018" fill="#1c1c1c">TOC-normalized mesopore</text></g>
<g transform="translate(1168.00,443.30) rotate(-90)"><text x="-0.00" y="0.00" font-size="44.00" letter-spacing="1.793" fill="#1c1c1c">volume(cm</text><text x="216.52" y="-18.48" font-size="29.92" letter-spacing="1.793" fill="#1c1c1c">3</text><text x="233.27" y="0.00" font-size="44.00" letter-spacing="1.793" fill="#1c1c1c">/g)</text></g>
<g transform="translate(50.00,1155.90) rotate(-90)"><text x="-0.79" y="0.00" font-size="44.00" letter-spacing="0.723" fill="#1c1c1c">TOC-normalized macropore</text></g>
<g transform="translate(101.60,1052.80) rotate(-90)"><text x="-0.00" y="0.00" font-size="44.00" letter-spacing="1.451" fill="#1c1c1c">volume(cm</text><text x="213.44" y="-18.48" font-size="29.92" letter-spacing="1.451" fill="#1c1c1c">3</text><text x="229.85" y="0.00" font-size="44.00" letter-spacing="1.451" fill="#1c1c1c">/g)</text></g>
<g transform="translate(1161.30,1155.90) rotate(-90)"><text x="-0.79" y="0.00" font-size="44.00" letter-spacing="0.837" fill="#1c1c1c">TOC-normalized micropore</text></g>
<g transform="translate(1206.60,1085.60) rotate(-90)"><text x="-1.80" y="0.00" font-size="44.00" letter-spacing="1.563" fill="#1c1c1c">surface area(m</text><text x="280.21" y="-18.48" font-size="29.92" letter-spacing="1.563" fill="#1c1c1c">2</text><text x="296.73" y="0.00" font-size="44.00" letter-spacing="1.563" fill="#1c1c1c">/g)</text></g>
<g transform="translate(74.40,1771.90) rotate(-90)"><text x="-0.79" y="0.00" font-size="44.00" letter-spacing="1.177" fill="#1c1c1c">TOC-normalized mesopore</text></g>
<g transform="translate(120.30,1696.90) rotate(-90)"><text x="-1.80" y="0.00" font-size="44.00" letter-spacing="1.347" fill="#1c1c1c">surface area(cm</text><text x="298.06" y="-18.48" font-size="29.92" letter-spacing="1.347" fill="#1c1c1c">3</text><text x="314.36" y="0.00" font-size="44.00" letter-spacing="1.347" fill="#1c1c1c">/g)</text></g>
<g transform="translate(1169.10,1771.90) rotate(-90)"><text x="-0.79" y="0.00" font-size="44.00" letter-spacing="0.589" fill="#1c1c1c">TOC-normalized macropore</text></g>
<g transform="translate(1215.90,1706.30) rotate(-90)"><text x="-1.80" y="0.00" font-size="44.00" letter-spacing="1.524" fill="#1c1c1c">surface area(cm</text><text x="300.72" y="-18.48" font-size="29.92" letter-spacing="1.524" fill="#1c1c1c">3</text><text x="317.21" y="0.00" font-size="44.00" letter-spacing="1.524" fill="#1c1c1c">/g)</text></g></svg></body></html>
